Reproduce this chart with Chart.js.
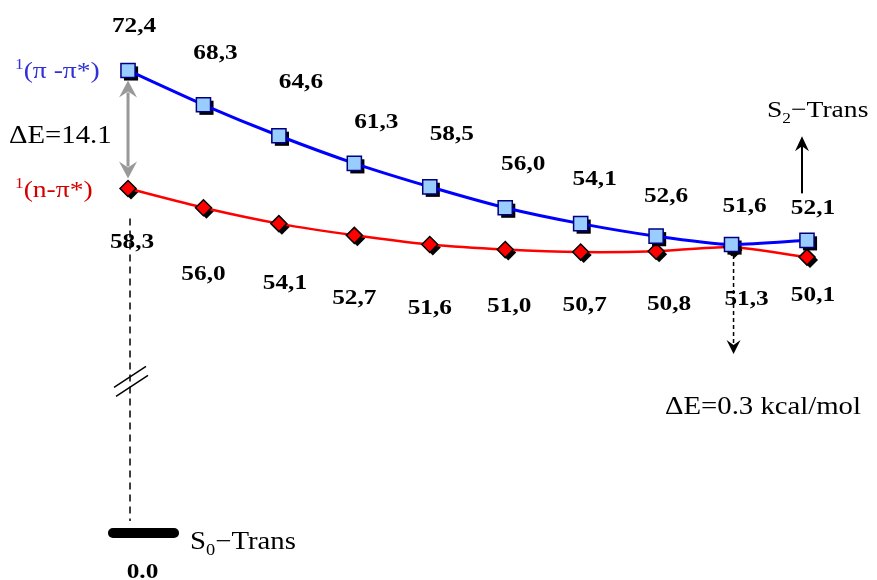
<!DOCTYPE html>
<html>
<head>
<meta charset="utf-8">
<script src="https://cdn.jsdelivr.net/npm/chart.js@4/dist/chart.umd.min.js"></script>
<style>
  html, body { margin: 0; padding: 0; background: #ffffff; }
  #wrap { width: 877px; height: 580px; }
</style>
</head>
<body>
<div id="wrap"><canvas id="c" width="877" height="580"></canvas></div>
<script>
// Reaction steps along the torsion path
const steps = [0, 1, 2, 3, 4, 5, 6, 7, 8, 9];
// Excitation energies (kcal/mol)
const pipiStar = [72.4, 68.3, 64.6, 61.3, 58.5, 56.0, 54.1, 52.6, 51.6, 52.1];
const npiStar  = [58.3, 56.0, 54.1, 52.7, 51.6, 51.0, 50.7, 50.8, 51.3, 50.1];
// Ground state reference level and the step range its bar spans
const groundLevel = 0.0;
const groundSpan = [-0.2, 0.61];

// Label nudges (px) relative to each marker: [dx, dy of text centre]
const pipiLabelShift = [[6,-46],[12,-53],[22,-55],[22,-43],[22,-54],[18,-45],[14,-46],[10,-42],[13,-40],[6,-34]];
const npiLabelShift  = [[4,52],[0,65],[6,58],[0,61],[0,62],[4,55],[4,51],[13,51],[15,50],[6,36]];

const SX = 1.15;           // horizontal text stretch
const SERIF = '"Liberation Serif", "Times New Roman", serif';

function fmt(v) { return v.toFixed(1).replace('.', ','); }

// Draws a sequence of text runs: {t, size, bold, dy}
function runs(ctx, parts, x, y, color, align) {
  ctx.save();
  ctx.fillStyle = color;
  ctx.textBaseline = 'alphabetic';
  ctx.textAlign = 'left';
  let total = 0;
  for (const p of parts) {
    ctx.font = (p.bold ? 'bold ' : '') + p.size + 'px ' + SERIF;
    p.w = ctx.measureText(p.t).width * SX;
    total += p.w;
  }
  let cx = align === 'center' ? x - total / 2 : x;
  for (const p of parts) {
    ctx.font = (p.bold ? 'bold ' : '') + p.size + 'px ' + SERIF;
    ctx.save();
    ctx.translate(cx, y + (p.dy || 0));
    ctx.scale(SX, 1);
    ctx.fillText(p.t, 0, 0);
    ctx.restore();
    cx += p.w;
  }
  ctx.restore();
}

function arrowHead(ctx, x, y, ang, len, half, notch, color) {
  ctx.save();
  ctx.translate(x, y);
  ctx.rotate(ang);
  ctx.fillStyle = color;
  ctx.beginPath();
  ctx.moveTo(0, 0);
  ctx.lineTo(-len, -half);
  ctx.lineTo(-len + notch, 0);
  ctx.lineTo(-len, half);
  ctx.closePath();
  ctx.fill();
  ctx.restore();
}

function markerPath(ctx, style, x, y, r) {
  ctx.beginPath();
  if (style === 'rect') {
    const s = Math.SQRT1_2 * r;
    ctx.rect(x - s, y - s, 2 * s, 2 * s);
  } else {
    ctx.moveTo(x - r, y);
    ctx.lineTo(x, y - r);
    ctx.lineTo(x + r, y);
    ctx.lineTo(x, y + r);
    ctx.closePath();
  }
}

// Black drop shadows behind the markers
const shadowPlugin = {
  id: 'markerShadow',
  beforeDatasetDraw(chart, args) {
    const ds = chart.data.datasets[args.index];
    if (!ds.shadow) return;
    const ctx = chart.ctx;
    ctx.save();
    ctx.fillStyle = '#000000';
    for (const pt of args.meta.data) {
      markerPath(ctx, ds.pointStyle, pt.x + 3, pt.y + 3, ds.pointRadius);
      ctx.fill();
    }
    ctx.restore();
  }
};

const notesPlugin = {
  id: 'notes',
  afterDatasetsDraw(chart) {
    const ctx = chart.ctx;
    const xs = chart.scales.x, yg = chart.scales.yg;
    const bluePts = chart.getDatasetMeta(0).data;
    const redPts = chart.getDatasetMeta(1).data;

    // value labels
    pipiStar.forEach((v, i) => {
      const p = bluePts[i], s = pipiLabelShift[i];
      runs(ctx, [{ t: fmt(v), size: 22, bold: true }], p.x + s[0], p.y + s[1] + 7.5, '#000000', 'center');
    });
    npiStar.forEach((v, i) => {
      const p = redPts[i], s = npiLabelShift[i];
      runs(ctx, [{ t: fmt(v), size: 22, bold: true }], p.x + s[0], p.y + s[1] + 7.5, '#000000', 'center');
    });

    const x0 = xs.getPixelForValue(steps[0]);
    const yBlue0 = bluePts[0].y, yRed0 = redPts[0].y;
    const yGround = yg.getPixelForValue(groundLevel);

    // state names
    runs(ctx, [{ t: '1', size: 15, dy: -9 }, { t: '(\u03C0 -\u03C0*)', size: 24 }], 15, yBlue0 + 8, '#3030d8', 'left');
    runs(ctx, [{ t: '1', size: 15, dy: -9 }, { t: '(n-\u03C0*)', size: 24 }], 15, yRed0 + 9, '#d40000', 'left');

    // gap between the two excited states at the first step
    ctx.save();
    ctx.strokeStyle = '#999999';
    ctx.lineWidth = 3;
    ctx.beginPath();
    ctx.moveTo(x0, yBlue0 + 22);
    ctx.lineTo(x0, yRed0 - 22);
    ctx.stroke();
    ctx.restore();
    arrowHead(ctx, x0, yBlue0 + 10, -Math.PI / 2, 17, 9, 6, '#999999');
    arrowHead(ctx, x0, yRed0 - 10, Math.PI / 2, 17, 9, 6, '#999999');
    runs(ctx, [{ t: '\u0394E=14.1', size: 25 }], 9, yBlue0 + 73, '#000000', 'left');

    // dashed link down to the ground state, with axis break
    const xd = x0 + 2;
    ctx.save();
    ctx.strokeStyle = '#000000';
    ctx.lineWidth = 1.5;
    ctx.setLineDash([7, 5]);
    ctx.beginPath();
    ctx.moveTo(xd, yRed0 + 30);
    ctx.lineTo(xd, yGround - 12);
    ctx.stroke();
    ctx.setLineDash([]);
    const yb = yRed0 + (yGround - yRed0) * 0.56;
    ctx.beginPath();
    ctx.moveTo(xd - 16, yb + 6);
    ctx.lineTo(xd + 16, yb - 15);
    ctx.moveTo(xd - 14, yb + 15);
    ctx.lineTo(xd + 18, yb - 6);
    ctx.stroke();
    ctx.restore();

    // ground state
    const xGroundMid = xs.getPixelForValue((groundSpan[0] + groundSpan[1]) / 2);
    runs(ctx, [{ t: groundLevel.toFixed(1), size: 22, bold: true }], xGroundMid - 1, yGround + 45, '#000000', 'center');
    runs(ctx, [{ t: 'S', size: 25 }, { t: '0', size: 16, dy: 6 }, { t: '\u2212Trans', size: 25 }], xs.getPixelForValue(groundSpan[1]) + 16, yGround + 16, '#000000', 'left');

    // S2 continuation arrow
    const last = steps.length - 1;
    const xa = bluePts[last].x - 5;
    ctx.save();
    ctx.strokeStyle = '#000000';
    ctx.lineWidth = 2;
    ctx.beginPath();
    ctx.moveTo(xa, bluePts[last].y - 47);
    ctx.lineTo(xa, bluePts[last].y - 96);
    ctx.stroke();
    ctx.restore();
    arrowHead(ctx, xa, bluePts[last].y - 104, -Math.PI / 2, 15, 7, 5, '#000000');
    runs(ctx, [{ t: 'S', size: 24 }, { t: '2', size: 15, dy: 6 }, { t: '\u2212Trans', size: 24 }], 767, bluePts[last].y - 123, '#000000', 'left');

    // near-degeneracy at the crossing step
    const ic = last - 1;
    const xc = redPts[ic].x + 2;
    ctx.save();
    ctx.strokeStyle = '#000000';
    ctx.lineWidth = 1.5;
    ctx.setLineDash([4, 3]);
    ctx.beginPath();
    ctx.moveTo(xc, redPts[ic].y + 8);
    ctx.lineTo(xc, redPts[ic].y + 100);
    ctx.stroke();
    ctx.restore();
    arrowHead(ctx, xc, redPts[ic].y + 107, Math.PI / 2, 14, 7, 5, '#000000');
    runs(ctx, [{ t: '\u0394E=0.3 kcal/mol', size: 25 }], 665, redPts[ic].y + 167, '#000000', 'left');
  }
};

new Chart(document.getElementById('c'), {
  type: 'line',
  data: {
    datasets: [
      {
        label: '1(\u03C0-\u03C0*)',
        data: steps.map((s, i) => ({ x: s, y: pipiStar[i] })),
        borderColor: '#0000ff',
        borderWidth: 3,
        tension: 0.2,
        pointStyle: 'rect',
        pointRadius: 10,
        pointBackgroundColor: '#99ccff',
        pointBorderColor: '#000080',
        pointBorderWidth: 1.5,
        shadow: true,
        clip: false
      },
      {
        label: '1(n-\u03C0*)',
        data: steps.map((s, i) => ({ x: s, y: npiStar[i] })),
        borderColor: '#ff0000',
        borderWidth: 2.5,
        tension: 0.2,
        pointStyle: 'rectRot',
        pointRadius: 8,
        pointBackgroundColor: '#ff0000',
        pointBorderColor: '#000000',
        pointBorderWidth: 1.5,
        shadow: true,
        clip: false
      },
      {
        label: 'S0-Trans',
        data: groundSpan.map(s => ({ x: s, y: groundLevel })),
        yAxisID: 'yg',
        borderColor: '#000000',
        borderWidth: 10,
        borderCapStyle: 'round',
        pointRadius: 0,
        clip: false
      }
    ]
  },
  options: {
    responsive: false,
    animation: false,
    events: [],
    layout: { autoPadding: false, padding: { top: 20, bottom: 20, left: 0, right: 0 } },
    plugins: { legend: { display: false }, tooltip: { enabled: false } },
    scales: {
      x: { type: 'linear', min: -1.697, max: 9.928, display: false },
      y: { type: 'linear', min: 13.91, max: 78.43, display: false },
      yg: { type: 'linear', min: -1, max: 19, display: false }
    }
  },
  plugins: [shadowPlugin, notesPlugin]
});
</script>
</body>
</html>
